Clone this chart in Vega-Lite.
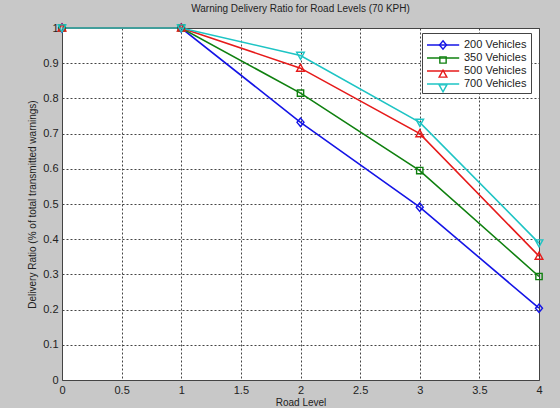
{
  "$schema": "https://vega.github.io/schema/vega-lite/v6.json",
  "autosize": "none",
  "width": 477,
  "height": 352,
  "padding": {"left": 62, "top": 28, "right": 21, "bottom": 28},
  "background": "#c8c8c8",
  "config": {
    "font": "Liberation Sans",
    "view": {"fill": "white", "stroke": "#444444", "strokeWidth": 1}
  },
  "title": {
    "text": "Warning Delivery Ratio for Road Levels (70 KPH)",
    "font": "Liberation Sans",
    "fontSize": 10,
    "fontWeight": "normal",
    "color": "#222222",
    "anchor": "middle",
    "offset": 7
  },
  "data": {
    "values": [
      {"series": "200 Vehicles", "level": 0, "ratio": 1.0},
      {"series": "200 Vehicles", "level": 1, "ratio": 1.0},
      {"series": "200 Vehicles", "level": 2, "ratio": 0.732},
      {"series": "200 Vehicles", "level": 3, "ratio": 0.491},
      {"series": "200 Vehicles", "level": 4, "ratio": 0.204},
      {"series": "350 Vehicles", "level": 0, "ratio": 1.0},
      {"series": "350 Vehicles", "level": 1, "ratio": 1.0},
      {"series": "350 Vehicles", "level": 2, "ratio": 0.815},
      {"series": "350 Vehicles", "level": 3, "ratio": 0.595},
      {"series": "350 Vehicles", "level": 4, "ratio": 0.294},
      {"series": "500 Vehicles", "level": 0, "ratio": 1.0},
      {"series": "500 Vehicles", "level": 1, "ratio": 1.0},
      {"series": "500 Vehicles", "level": 2, "ratio": 0.886},
      {"series": "500 Vehicles", "level": 3, "ratio": 0.700},
      {"series": "500 Vehicles", "level": 4, "ratio": 0.352},
      {"series": "700 Vehicles", "level": 0, "ratio": 1.0},
      {"series": "700 Vehicles", "level": 1, "ratio": 1.0},
      {"series": "700 Vehicles", "level": 2, "ratio": 0.922},
      {"series": "700 Vehicles", "level": 3, "ratio": 0.732},
      {"series": "700 Vehicles", "level": 4, "ratio": 0.389}
    ]
  },
  "encoding": {
    "x": {
      "field": "level",
      "type": "quantitative",
      "scale": {"domain": [0, 4], "nice": false, "zero": false},
      "axis": {
        "title": "Road Level",
        "values": [0, 0.5, 1, 1.5, 2, 2.5, 3, 3.5, 4],
        "tickCount": 40,
        "format": "~g",
        "domain": false,
        "ticks": false,
        "labelOverlap": false,
        "labelFont": "Liberation Sans",
        "labelFontSize": 11,
        "labelColor": "#222222",
        "labelPadding": 4,
        "labelFlush": false,
        "titleFont": "Liberation Sans",
        "titleFontSize": 10,
        "titleFontWeight": "normal",
        "titleColor": "#222222",
        "titlePadding": 2,
        "grid": true,
        "gridColor": "#444444",
        "gridDash": [2, 2],
        "gridOpacity": 1,
        "gridWidth": 1
      }
    },
    "y": {
      "field": "ratio",
      "type": "quantitative",
      "scale": {"domain": [0, 1], "nice": false},
      "axis": {
        "title": "Delivery Ratio (% of total transmitted warnings)",
        "values": [0, 0.1, 0.2, 0.3, 0.4, 0.5, 0.6, 0.7, 0.8, 0.9, 1],
        "tickCount": 40,
        "format": "~g",
        "domain": false,
        "ticks": false,
        "labelOverlap": false,
        "labelFont": "Liberation Sans",
        "labelFontSize": 11,
        "labelColor": "#222222",
        "labelPadding": 4,
        "labelFlush": false,
        "titleFont": "Liberation Sans",
        "titleFontSize": 10,
        "titleFontWeight": "normal",
        "titleColor": "#222222",
        "titlePadding": 5,
        "grid": true,
        "gridColor": "#444444",
        "gridDash": [2, 2],
        "gridOpacity": 1,
        "gridWidth": 1
      }
    }
  },
  "layer": [
    {
      "mark": {"type": "line", "strokeWidth": 1.6, "clip": false},
      "encoding": {
        "color": {
          "field": "series",
          "type": "nominal",
          "scale": {
            "domain": ["200 Vehicles", "350 Vehicles", "500 Vehicles", "700 Vehicles"],
            "range": ["#1414e6", "#0f800f", "#e61a1a", "#1ec4c4"]
          },
          "legend": {
            "title": null,
            "orient": "none",
            "legendX": 360,
            "legendY": 5,
            "fillColor": "white",
            "strokeColor": "#444444",
            "padding": 4,
            "rowPadding": 0,
            "symbolType": "M-1,0H3.6",
            "symbolSize": 196,
            "symbolStrokeWidth": 1.5,
            "labelOffset": 22,
            "labelFont": "Liberation Sans",
            "labelFontSize": 11,
            "labelColor": "#222222"
          }
        }
      }
    },
    {
      "mark": {"type": "point", "filled": false, "size": 196, "strokeWidth": 1.4, "opacity": 1, "clip": false},
      "encoding": {
        "stroke": {
          "field": "series",
          "type": "nominal",
          "scale": {"range": ["#1414e6", "#0f800f", "#e61a1a", "#1ec4c4"]}
        },
        "shape": {
          "field": "series",
          "type": "nominal",
          "scale": {
            "range": [
              "M0,-0.6L0.5,0L0,0.6L-0.5,0Z",
              "M-0.45,-0.45H0.45V0.45H-0.45Z",
              "M0,-0.55L0.55,0.45H-0.55Z",
              "M0,0.55L0.55,-0.45H-0.55Z"
            ]
          },
          "legend": {
            "title": null,
            "orient": "none",
            "legendX": 360,
            "legendY": 5,
            "fillColor": "transparent",
            "strokeColor": "transparent",
            "padding": 4,
            "rowPadding": 0,
            "symbolSize": 196,
            "symbolStrokeWidth": 1.4,
            "symbolOffset": 9,
            "labelOffset": 22,
            "labelFont": "Liberation Sans",
            "labelFontSize": 11,
            "labelExpr": "''"
          }
        }
      }
    }
  ]
}
